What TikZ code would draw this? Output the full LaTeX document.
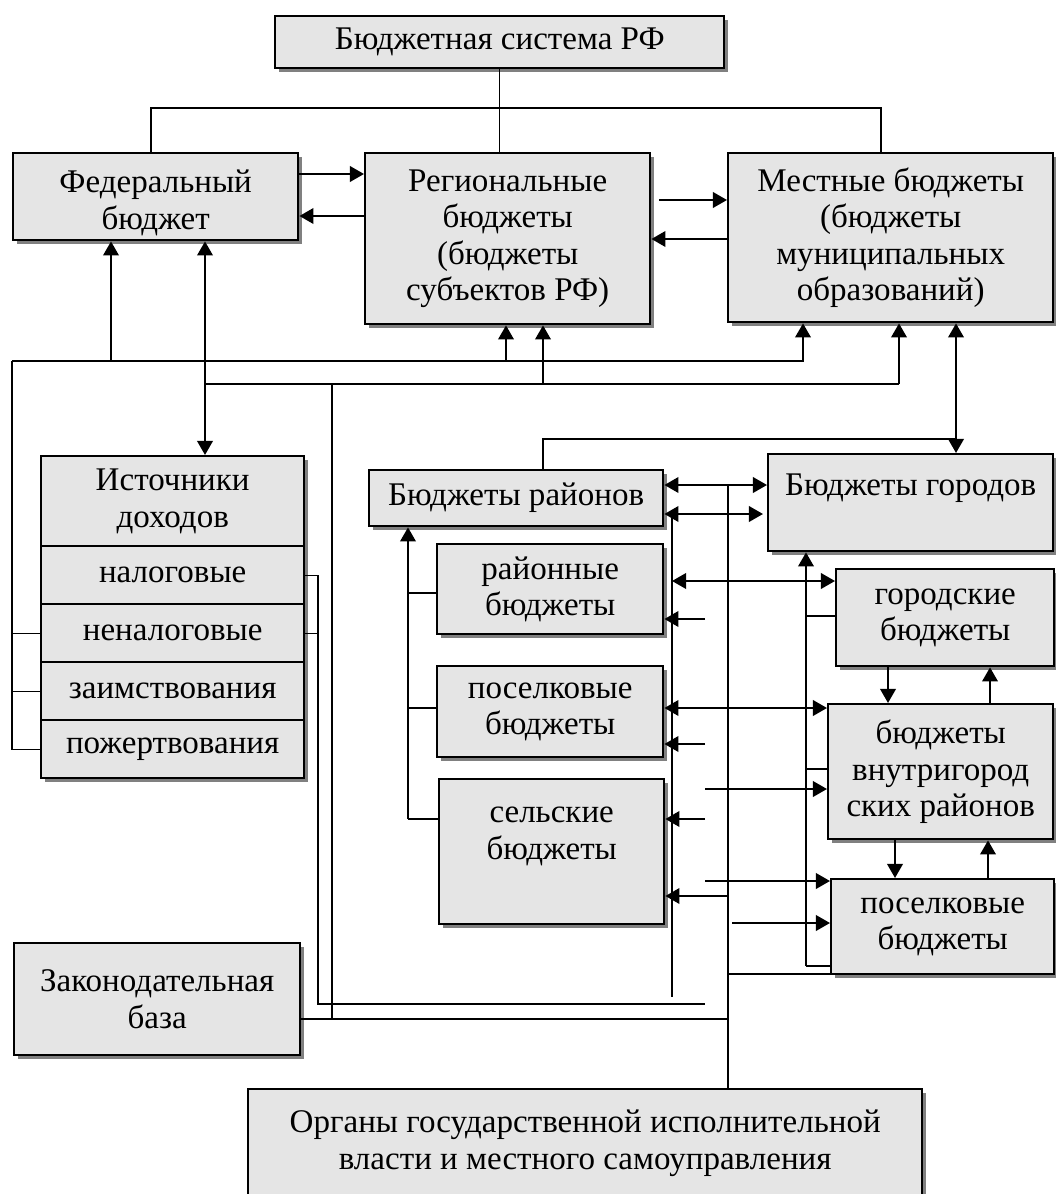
\documentclass[tikz,border=0pt]{standalone}
\usepackage{fontspec}
\setmainfont{Liberation Serif}
\usetikzlibrary{arrows.meta,shadows}

\tikzset{
  budget/.style={draw, line width=1.7pt, fill=black!10, align=center, inner sep=2pt,
    anchor=north west, font=\fontsize{23.5pt}{26pt}\selectfont,
    drop shadow={shadow xshift=0.1cm, shadow yshift=-0.1cm, opacity=1, fill=black!50}},
  wh/.style 2 args={minimum width=#1*0.025cm, minimum height=#2*0.025cm},
  link/.style={line width=0.75pt},
  trunk/.style={line width=1.6pt},
  flow/.style={line width=1.6pt, -{Triangle[length=10pt,width=11pt]}},
  flowtwo/.style={line width=1.6pt, {Triangle[length=10pt,width=11pt]}-{Triangle[length=10pt,width=11pt]}}
}

\begin{document}
\begin{tikzpicture}[x=0.025cm, y=-0.025cm]
    \useasboundingbox (0,0) rectangle (1056,1194);

    % draw budget boxes
    \node[budget, wh={449}{52}] (sys) at (274,15) {Бюджетная система РФ};
    \node[budget, wh={285}{87}] (fed) at (12,152) {\rule{0pt}{25pt}Федеральный\\бюджет};
    \node[budget, wh={285}{171}] (reg) at (364,152) {Региональные\\бюджеты\\(бюджеты\\субъектов РФ)};
    \node[budget, wh={325}{169}] (loc) at (727,152) {Местные бюджеты\\(бюджеты\\муниципальных\\образований)};

    % draw sources of income
    \node[budget, wh={263}{90}] (src) at (40,455) {Источники\\доходов};
    \foreach \nm/\txt [count=\i] in {nal/налоговые, nenal/неналоговые, zaim/заимствования, pozh/пожертвования}
      \node[budget, wh={263}{58}] (\nm) at (40,{545+58*(\i-1)}) {\txt};

    % draw district and city boxes
    \node[budget, wh={294}{56}] (rai) at (368,469) {Бюджеты районов};
    \node[budget, wh={226}{90}] (rayb) at (436,543) {районные\\бюджеты};
    \node[budget, wh={226}{91}] (posb) at (436,665) {поселковые\\бюджеты};
    \node[budget, wh={225}{145}] (selb) at (438,778) {сельские\\бюджеты\\~};
    \node[budget, wh={285}{97}] (gor) at (767,453) {Бюджеты городов\\~};
    \node[budget, wh={218}{97}] (gorb) at (835,568) {городские\\бюджеты};
    \node[budget, wh={225}{135}] (vnut) at (827,703) {бюджеты\\внутригород\\ских районов};
    \node[budget, wh={223}{95}] (posg) at (830,878) {поселковые\\бюджеты};

    % draw law and authorities
    \node[budget, wh={286}{112}] (zak) at (13,942) {Законодательная\\база};
    \node[budget, wh={674}{137}] (org) at (247,1088) {Органы государственной исполнительной\\власти и местного самоуправления\\~};

    % named points of the long lines
    \coordinate (busA) at (12,361);
    \coordinate (busB) at (205,384);
    \coordinate (vS) at (318,0);
    \coordinate (vR) at (332,0);
    \coordinate (vL) at (408,0);
    \coordinate (vK) at (672,0);
    \coordinate (vM) at (705,0);
    \coordinate (vT) at (728,0);
    \coordinate (vC) at (806,0);

    % draw links from the top
    \draw[link] (sys.south) -- (sys.south |- reg.north);
    \draw[link] (fed.north -| 151,0) -- ++(0,-44) -| (loc.north -| 881,0);

    % draw arrows between levels
    \draw[flow] (fed.east |- 0,174) -- (reg.west |- 0,174);
    \draw[flow] (reg.west |- 0,216) -- (fed.east |- 0,216);
    \draw[flow, shorten <=0.2cm] (reg.east |- 0,200) -- (loc.west |- 0,200);
    \draw[flow] (loc.west |- 0,239) -- (reg.east |- 0,239);

    % draw lower buses
    \draw[flow] (busA) -- (busA -| 803,0) -- (loc.south -| 803,0);
    \draw[flow] (busA -| 111,0) -- (fed.south -| 111,0);
    \draw[flow] (busA -| 506,0) -- (reg.south -| 506,0);
    \draw[link] (busB) -- (busB -| 899,0);
    \draw[flow] (busB -| 899,0) -- (loc.south -| 899,0);
    \draw[flow] (busB -| 543,0) -- (reg.south -| 543,0);
    \draw[flowtwo] (fed.south -| busB) -- (src.north -| busB);

    % draw links to sources
    \draw[link] (busA) |- (pozh.west);
    \draw[link] (busA |- nenal.west) -- (nenal.west);
    \draw[link] (busA |- zaim.west) -- (zaim.west);
    \draw[link] (nal.east) -| (vS |- 0,1004) -- (vM |- 0,1004);
    \draw[link] (nenal.east) -- (nenal.east -| vS);
    \draw[link] (busB -| vR) |- (vT |- 0,1019);
    \draw[link] (zak.east |- 0,1019) -- (vR |- 0,1019);

    % draw district links
    \draw[link] (rai.north -| 543,0) -- (543,439) -- (956,439);
    \draw[flowtwo] (loc.south -| 956,0) -- (gor.north -| 956,0);
    \draw[flowtwo] (rai.east |- 0,485) -- (gor.west |- 0,485);
    \draw[flowtwo] (rai.east |- 0,514) -- (763,514);
    \draw[trunk] (vK |- 0,514) -- (vK |- 0,997);
    \draw[link] (vT |- 0,485) -- (org.north -| vT);
    \draw[flowtwo] (vK |- 0,581) -- (gorb.west |- 0,581);
    \draw[flowtwo] (posb.east |- 0,708) -- (vnut.west |- 0,708);
    \foreach \y/\b in {619/rayb, 744/posb, 819/selb}
      \draw[flow] (vM |- 0,\y) -- (\b.east |- 0,\y);
    \foreach \y/\b in {789/vnut, 881/posg}
      \draw[flow] (vM |- 0,\y) -- (\b.west |- 0,\y);
    \draw[flow] (vT |- 0,896) -- (selb.east |- 0,896);
    \draw[flow] (732,923) -- (posg.west |- 0,923);
    \draw[flow] (vL |- 0,819) -- (rai.south -| vL);
    \foreach \y/\b in {593/rayb, 708/posb, 819/selb}
      \draw[link] (vL |- 0,\y) -- (\b.west |- 0,\y);

    % draw city links
    \draw[flow] (vC |- 0,966) -- (gor.south -| vC);
    \foreach \y/\b in {616/gorb, 769/vnut, 966/posg}
      \draw[link] (vC |- 0,\y) -- (\b.west |- 0,\y);
    \draw[link] (vT |- 0,974) -- (posg.west |- 0,974);
    \draw[flow] (gorb.south -| 888,0) -- (vnut.north -| 888,0);
    \draw[flow] (vnut.north -| 990,0) -- (gorb.south -| 990,0);
    \draw[flow] (vnut.south -| 895,0) -- (posg.north -| 895,0);
    \draw[flow] (posg.north -| 988,0) -- (vnut.south -| 988,0);
\end{tikzpicture}
\end{document}
